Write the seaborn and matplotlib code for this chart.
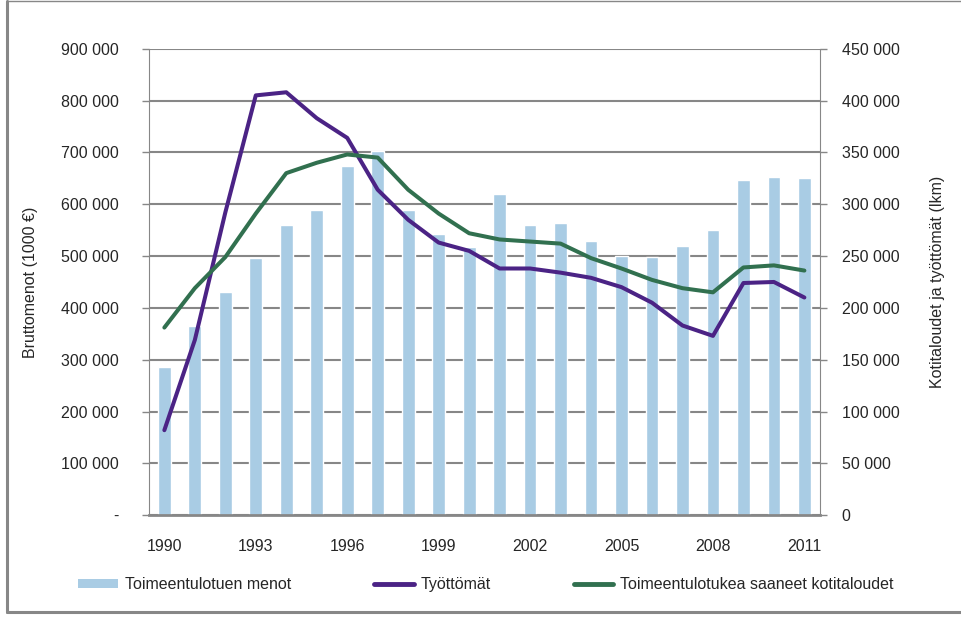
import numpy as np
import pandas as pd
import seaborn as sns
import matplotlib
matplotlib.use("Agg")
from matplotlib import pyplot as plt
from matplotlib.lines import Line2D
from matplotlib.patches import Patch
from matplotlib.ticker import FuncFormatter, FixedLocator

years = list(range(1990, 2012))
menot = [286000, 365000, 430000, 496000, 560000, 589000, 674000, 703000, 589000, 542000, 517000,
         620000, 560000, 564000, 529000, 500000, 498000, 519000, 550000, 647000, 653000, 651000]
tyottomat = [82000, 169000, 292000, 405000, 408000, 383000, 364000, 314000, 285000, 263000, 255000,
             238000, 238000, 234000, 229000, 220000, 205000, 183000, 173000, 224000, 225000, 210000]
kotitaloudet = [181000, 219000, 249000, 291000, 330000, 340000, 348000, 345000, 314000, 291000, 272000,
                266000, 264000, 262000, 248000, 238000, 227000, 219000, 215000, 239000, 241000, 236000]
year_labels = [1990, 1993, 1996, 1999, 2002, 2005, 2008, 2011]

df = pd.DataFrame({"vuosi": years, "menot": menot, "tyottomat": tyottomat,
                   "kotitaloudet": kotitaloudet})

bar_col = "#a9cce4"
purple = "#4b2385"
green = "#31704f"
grid_col = "#878787"

sns.set_style("white")
plt.rcParams['font.family'] = ['Liberation Sans', 'DejaVu Sans']

fig = plt.figure(figsize=(9.62, 6.17), dpi=100)
ax = fig.add_axes([0.155, 0.165, 0.697, 0.756])

sns.barplot(data=df, x="vuosi", y="menot", native_scale=True, width=0.42,
            color=bar_col, saturation=1, ax=ax, zorder=2)
ax.set_ylim(0, 900000)
ax.set_xlim(1989.5, 2011.5)
ax.yaxis.set_major_locator(FixedLocator(np.arange(0, 900001, 100000)))
ax.yaxis.set_major_formatter(FuncFormatter(
    lambda v, p: "-" if v == 0 else f"{int(v):,}".replace(",", " ")))
ax.grid(axis="y", color=grid_col, lw=1.5, zorder=0)
ax.set_axisbelow(True)

ax2 = ax.twinx()
sns.lineplot(data=df, x="vuosi", y="tyottomat", color=purple, lw=2.9, ax=ax2)
sns.lineplot(data=df, x="vuosi", y="kotitaloudet", color=green, lw=2.9, ax=ax2)
ax2.set_ylim(0, 450000)
ax2.yaxis.set_major_locator(FixedLocator(np.arange(0, 450001, 50000)))
ax2.yaxis.set_major_formatter(FuncFormatter(
    lambda v, p: f"{int(v):,}".replace(",", " ")))

# category boundaries as ticks, labels every third year
ax.xaxis.set_major_locator(FixedLocator(np.arange(1989.5, 2012, 1)))
ax.xaxis.set_major_formatter(FuncFormatter(lambda v, p: ""))
ax.xaxis.set_minor_locator(FixedLocator(year_labels))
ax.xaxis.set_minor_formatter(FuncFormatter(lambda v, p: str(int(v))))
ax.tick_params(axis="x", which="major", length=5, color=grid_col, width=1)
ax.tick_params(axis="x", which="minor", length=0, pad=17, labelsize=11.5)
ax.tick_params(axis="y", length=5, color=grid_col, width=1, labelsize=11.5, pad=17)
ax2.tick_params(axis="y", length=5, color=grid_col, width=1, labelsize=11.5, pad=11)

for a in (ax, ax2):
    a.set_xlabel("")
    for s in a.spines.values():
        s.set_visible(False)
ax.spines["left"].set_visible(True)
ax.spines["left"].set_color(grid_col)
ax.spines["bottom"].set_visible(True)
ax.spines["bottom"].set_color(grid_col)
ax.spines["bottom"].set_linewidth(2)
ax2.spines["right"].set_visible(True)
ax2.spines["right"].set_color(grid_col)

ax.set_ylabel("Bruttomenot (1000 €)", fontsize=11.5, labelpad=16)
ax2.set_ylabel("Kotitaloudet ja työttömät (lkm)", fontsize=11.5, labelpad=22)

handles = [Patch(facecolor=bar_col, edgecolor="none"),
           Line2D([], [], color=purple, lw=3.5),
           Line2D([], [], color=green, lw=3.5)]
labels = ["Toimeentulotuen menot", "Työttömät", "Toimeentulotukea saaneet kotitaloudet"]
fig.legend(handles, labels, loc="center", bbox_to_anchor=(0.505, 0.052), ncol=3,
           frameon=False, fontsize=11.5, handlelength=2.5, handleheight=0.5,
           handletextpad=0.4, columnspacing=5.2)

# frame round the chart
fig.add_artist(Line2D([0.007, 1.0], [0.998, 0.998], color=grid_col, lw=1))
fig.add_artist(Line2D([0.0075, 0.0075], [0.008, 0.998], color=grid_col, lw=2.2))
fig.add_artist(Line2D([0.007, 1.0], [0.008, 0.008], color=grid_col, lw=2.2))

fig.savefig("out.png", dpi=100)
